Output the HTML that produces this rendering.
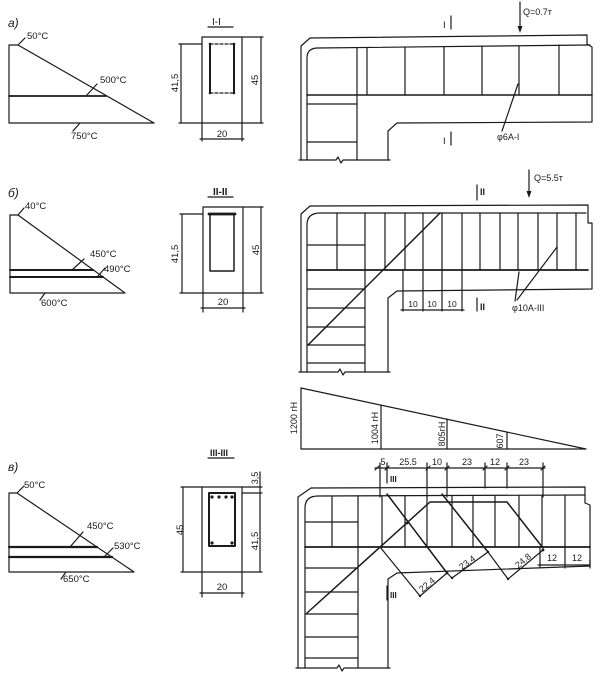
<!DOCTYPE html>
<html><head><meta charset="utf-8"><style>
html,body{margin:0;padding:0;background:#fff;}
svg{display:block;}
text{font-family:"Liberation Sans",sans-serif;fill:#1a1a1a;}
</style></head><body>
<svg width="607" height="673" viewBox="0 0 607 673" xmlns="http://www.w3.org/2000/svg">
<rect width="607" height="673" fill="#fff"/>
<g stroke="#1a1a1a" stroke-width="1.2" fill="none" stroke-linecap="round" stroke-linejoin="round">
<!-- ===== a) triangle ===== -->
<path d="M9,123 L9,45 L18,45 L154,123 Z"/>
<line x1="9" y1="96" x2="106" y2="96" stroke-width="1.8"/>
<path d="M18,45 L25,38 M86,96 L97,84 M80,123 L73,131"/>
<!-- Section I-I -->
<rect x="202" y="37" width="40" height="86"/>
<path d="M210,44 L210,93 M234,44 L234,93" stroke-width="2"/>
<path d="M210,44 L234,44 M210,93 L234,93" stroke-dasharray="3,2"/>
<path d="M181,44 L181,123 M179,44 L202,44 M179,123 L202,123 M261,37 L261,123 M242,37 L263,37 M242,123 L263,123 M202,123 L202,141 M242,123 L242,141 M200,139 L244,139"/>
<path d="M208,27 L233,27"/>
<!-- Beam a -->
<path d="M310,38 L587,35 L587,44 L592,47 L592,122 L397,123 L388,131 L388,160"/>
<path d="M310,38 L301,46 L301,160"/>
<path d="M307,160 L307,58 Q307,48 318,48 L590,45"/>
<line x1="307" y1="95" x2="592" y2="95" stroke-width="1.6"/>
<path d="M307,104 L357,104 M307,142 L357,142"/>
<path d="M357,48 L357,160 M367,48 L367,95 M405,47 L405,95 M444,47 L444,95 M482,46 L482,95 M519,46 L519,95 M559,45 L559,95"/>
<path d="M299,160 L336,160 L338,157 L341,163 L343,160 L390,160"/>
<path d="M451,16 L451,29 M451,132 L451,145"/>
<path d="M520,2 L520,27"/>
<path d="M502,131 L518,84"/>
<!-- ===== б) triangle ===== -->
<path d="M10,293 L10,215 L18,215 L125,293 Z"/>
<line x1="10" y1="270" x2="93" y2="270" stroke-width="2"/>
<line x1="10" y1="277" x2="103" y2="277" stroke-width="2"/>
<path d="M18,215 L24,208 M72,270 L84,259 M98,276 L105,268 M45,293 L40,300"/>
<!-- Section II-II -->
<rect x="203" y="207" width="40" height="86"/>
<path d="M210,214 L210,271 L234,271 L234,214" stroke-width="1.5"/>
<path d="M209,214 L235,214" stroke-width="2.8"/>
<path d="M182,214 L182,293 M180,214 L203,214 M180,293 L203,293 M261,207 L261,293 M243,207 L263,207 M243,293 L263,293 M203,293 L203,312 M243,293 L243,312 M201,308 L245,308"/>
<path d="M208,197 L233,197"/>
<!-- Beam b -->
<path d="M310,206 L588,205 L588,223 L592,223 L592,289 L397,291 L388,298 L388,372"/>
<path d="M310,206 L301,214 L301,372"/>
<path d="M307,372 L307,225 Q307,213 320,213 L586,213"/>
<line x1="307" y1="270" x2="588" y2="270" stroke-width="1.8"/>
<path d="M337,213 L337,270 M365,213 L365,372 M385,213 L385,270 M405,213 L405,270 M423,213 L423,270 M442,213 L442,270 M462,213 L462,270 M480,213 L480,270 M500,213 L500,270 M518,213 L518,270 M538,213 L538,270 M557,213 L557,270 M576,213 L576,270"/>
<path d="M307,245 L365,245 M307,289 L365,289 M307,308 L365,308 M307,327 L365,327 M307,345 L365,345 M307,363 L365,363"/>
<path d="M299,372 L338,372 L340,369 L343,375 L345,372 L390,372"/>
<line x1="440" y1="213" x2="308" y2="345" stroke-width="1.5"/>
<path d="M403,270 L403,311 M423,270 L423,311 M442,270 L442,311 M462,270 L462,311 M401,310 L464,310"/>
<path d="M477,185 L477,200 M477,298 L477,311"/>
<path d="M529,170 L529,191"/>
<path d="M515,301 L519,272 M517,300 L557,247"/>
<!-- Load diagram -->
<path d="M301,388 L586,449 L301,449 Z"/>
<path d="M381,405 L381,449 M447,419 L447,449 M507,432 L507,449"/>
<path d="M375,468 L545,468"/>
<path d="M375,470 L379,466 M385,470 L389,466 M426,470 L430,466 M445,470 L449,466 M483,470 L487,466 M505,470 L509,466 M541,470 L545,466"/>
<!-- ===== в) triangle ===== -->
<path d="M9,572 L9,493 L17,493 L134,572 Z"/>
<line x1="9" y1="547" x2="97" y2="547" stroke-width="2.2"/>
<line x1="9" y1="557" x2="112" y2="557" stroke-width="2.2"/>
<path d="M17,493 L24,486 M70,547 L83,532 M104,557 L113,548 M66,572 L61,579"/>
<!-- Section III-III -->
<rect x="202" y="487" width="40" height="85"/>
<rect x="209" y="493" width="26" height="53" stroke-width="2"/>
<path d="M183,487 L183,572 M181,487 L202,487 M181,572 L202,572 M260,472 L260,572 M242,487 L262,487 M242,493 L262,493 M242,572 L262,572 M202,572 L202,597 M242,572 L242,597 M200,593 L244,593"/>
<path d="M208,458 L234,458"/>
<!-- Beam c -->
<path d="M380,463 L380,497 M387,463 L387,470 M427,463 L427,497 M447,463 L447,497 M485,463 L485,488 M507,463 L507,488 M543,463 L543,497"/>
<path d="M311,488 L585,487 L585,503 L590,505 L590,566 L397,573 L388,579 L388,668"/>
<path d="M311,488 L298,497 L298,668"/>
<path d="M305,668 L305,508 Q305,496 318,496 L585,495"/>
<line x1="305" y1="547" x2="590" y2="547" stroke-width="1.8"/>
<path d="M332,496 L332,547 M358,496 L358,668"/>
<path d="M305,522 L358,522 M305,568 L358,568 M305,592 L358,592 M305,614 L358,614 M305,637 L358,637 M305,658 L358,658"/>
<path d="M382,496 L382,547 M405,496 L405,547 M427,496 L427,547 M452,496 L452,547 M473,496 L473,547 M495,496 L495,547 M519,496 L519,547 M542,496 L542,547 M565,496 L565,547"/>
<path d="M307,613 L430,502 L507,502 L543,548" stroke-width="1.5"/>
<path d="M387,494 L447,573 M442,494 L488,552" stroke-width="1.5"/>
<path d="M380,547 L420,596 L447,573 M447,573 L452,578 L488,552 M488,552 L508,579 L543,550"/>
<path d="M540,548 L540,568 M565,548 L565,568 M590,560 L590,568 M538,565 L590,565"/>
<path d="M387,470 L387,483 M387,586 L387,600"/>
<path d="M296,668 L337,668 L339,665 L342,671 L344,668 L390,668"/>
</g>
<!-- filled items -->
<g fill="#1a1a1a">
<path d="M517.5,26 L522.5,26 L520,33 Z"/>
<path d="M526.5,191 L531.5,191 L529,198 Z"/>
<circle cx="212" cy="497" r="1.6"/><circle cx="219" cy="497" r="1.6"/><circle cx="226" cy="497" r="1.6"/><circle cx="232" cy="497" r="1.6"/>
<circle cx="212" cy="543" r="1.6"/><circle cx="232" cy="543" r="1.6"/>
<circle cx="210" cy="44" r="1.3"/><circle cx="234" cy="44" r="1.3"/><circle cx="210" cy="93" r="1.3"/><circle cx="234" cy="93" r="1.3"/>
<circle cx="407" cy="523" r="1.4"/><circle cx="447" cy="573" r="1.4"/><circle cx="452" cy="578" r="1.2"/><circle cx="488" cy="552" r="1.2"/><circle cx="508" cy="579" r="1.2"/><circle cx="543" cy="550" r="1.4"/><circle cx="420" cy="596" r="1.2"/>
</g>
<!-- texts -->
<g font-size="9.5">
<text x="8" y="27" font-size="12" font-style="italic">а)</text>
<text x="27" y="39">50°C</text>
<text x="100" y="83">500°C</text>
<text x="71" y="139">750°C</text>
<text x="212" y="25" font-size="10">I-I</text>
<text transform="translate(178,83) rotate(-90)" text-anchor="middle">41,5</text>
<text transform="translate(258,80) rotate(-90)" text-anchor="middle">45</text>
<text x="222" y="137" text-anchor="middle">20</text>
<text x="443" y="28">I</text>
<text x="443" y="144">I</text>
<text x="523" y="15" font-size="9">Q=0.7т</text>
<text x="497" y="140" font-size="9">φ6A-I</text>

<text x="8" y="197" font-size="12" font-style="italic">б)</text>
<text x="25" y="209">40°C</text>
<text x="90" y="257">450°C</text>
<text x="104" y="272">490°C</text>
<text x="41" y="306">600°C</text>
<text x="213" y="195" font-size="10" font-weight="bold">II-II</text>
<text transform="translate(178,254) rotate(-90)" text-anchor="middle">41,5</text>
<text transform="translate(259,250) rotate(-90)" text-anchor="middle">45</text>
<text x="223" y="305" text-anchor="middle">20</text>
<text x="480" y="195" font-size="9" font-weight="bold">II</text>
<text x="480" y="310" font-size="9" font-weight="bold">II</text>
<text x="534" y="181" font-size="9">Q=5.5т</text>
<text x="413" y="307" font-size="8.5" text-anchor="middle">10</text>
<text x="432" y="307" font-size="8.5" text-anchor="middle">10</text>
<text x="452" y="307" font-size="8.5" text-anchor="middle">10</text>
<text x="512" y="311" font-size="9">φ10A-III</text>

<text transform="translate(297,418) rotate(-90)" text-anchor="middle" font-size="9">1200 гН</text>
<text transform="translate(378,428) rotate(-90)" text-anchor="middle" font-size="9">1004 гН</text>
<text transform="translate(445,434) rotate(-90)" text-anchor="middle" font-size="9">805гН</text>
<text transform="translate(503,441) rotate(-90)" text-anchor="middle" font-size="9">607</text>
<text x="383" y="465" font-size="9" text-anchor="middle">5</text>
<text x="408" y="465" font-size="9" text-anchor="middle">25.5</text>
<text x="437" y="465" font-size="9" text-anchor="middle">10</text>
<text x="467" y="465" font-size="9" text-anchor="middle">23</text>
<text x="495" y="465" font-size="9" text-anchor="middle">12</text>
<text x="524" y="465" font-size="9" text-anchor="middle">23</text>

<text x="8" y="471" font-size="12" font-style="italic">в)</text>
<text x="24" y="488">50°C</text>
<text x="87" y="529">450°C</text>
<text x="114" y="549">530°C</text>
<text x="63" y="582">650°C</text>
<text x="210" y="456" font-size="9" font-weight="bold">III-III</text>
<text transform="translate(183,530) rotate(-90)" text-anchor="middle">45</text>
<text transform="translate(258,541) rotate(-90)" text-anchor="middle">41,5</text>
<text transform="translate(258,478) rotate(-90)" text-anchor="middle" font-size="9">3,5</text>
<text x="222" y="590" text-anchor="middle">20</text>
<text x="390" y="482" font-size="8" font-weight="bold">III</text>
<text x="390" y="598" font-size="8" font-weight="bold">III</text>
<text transform="translate(429,587) rotate(-40)" text-anchor="middle" font-size="9">22.4</text>
<text transform="translate(469,565) rotate(-36)" text-anchor="middle" font-size="9">23.4</text>
<text transform="translate(525,563) rotate(-40)" text-anchor="middle" font-size="9">24.8</text>
<text x="552" y="561" font-size="9" text-anchor="middle">12</text>
<text x="577" y="561" font-size="9" text-anchor="middle">12</text>
</g>
</svg>
</body></html>
